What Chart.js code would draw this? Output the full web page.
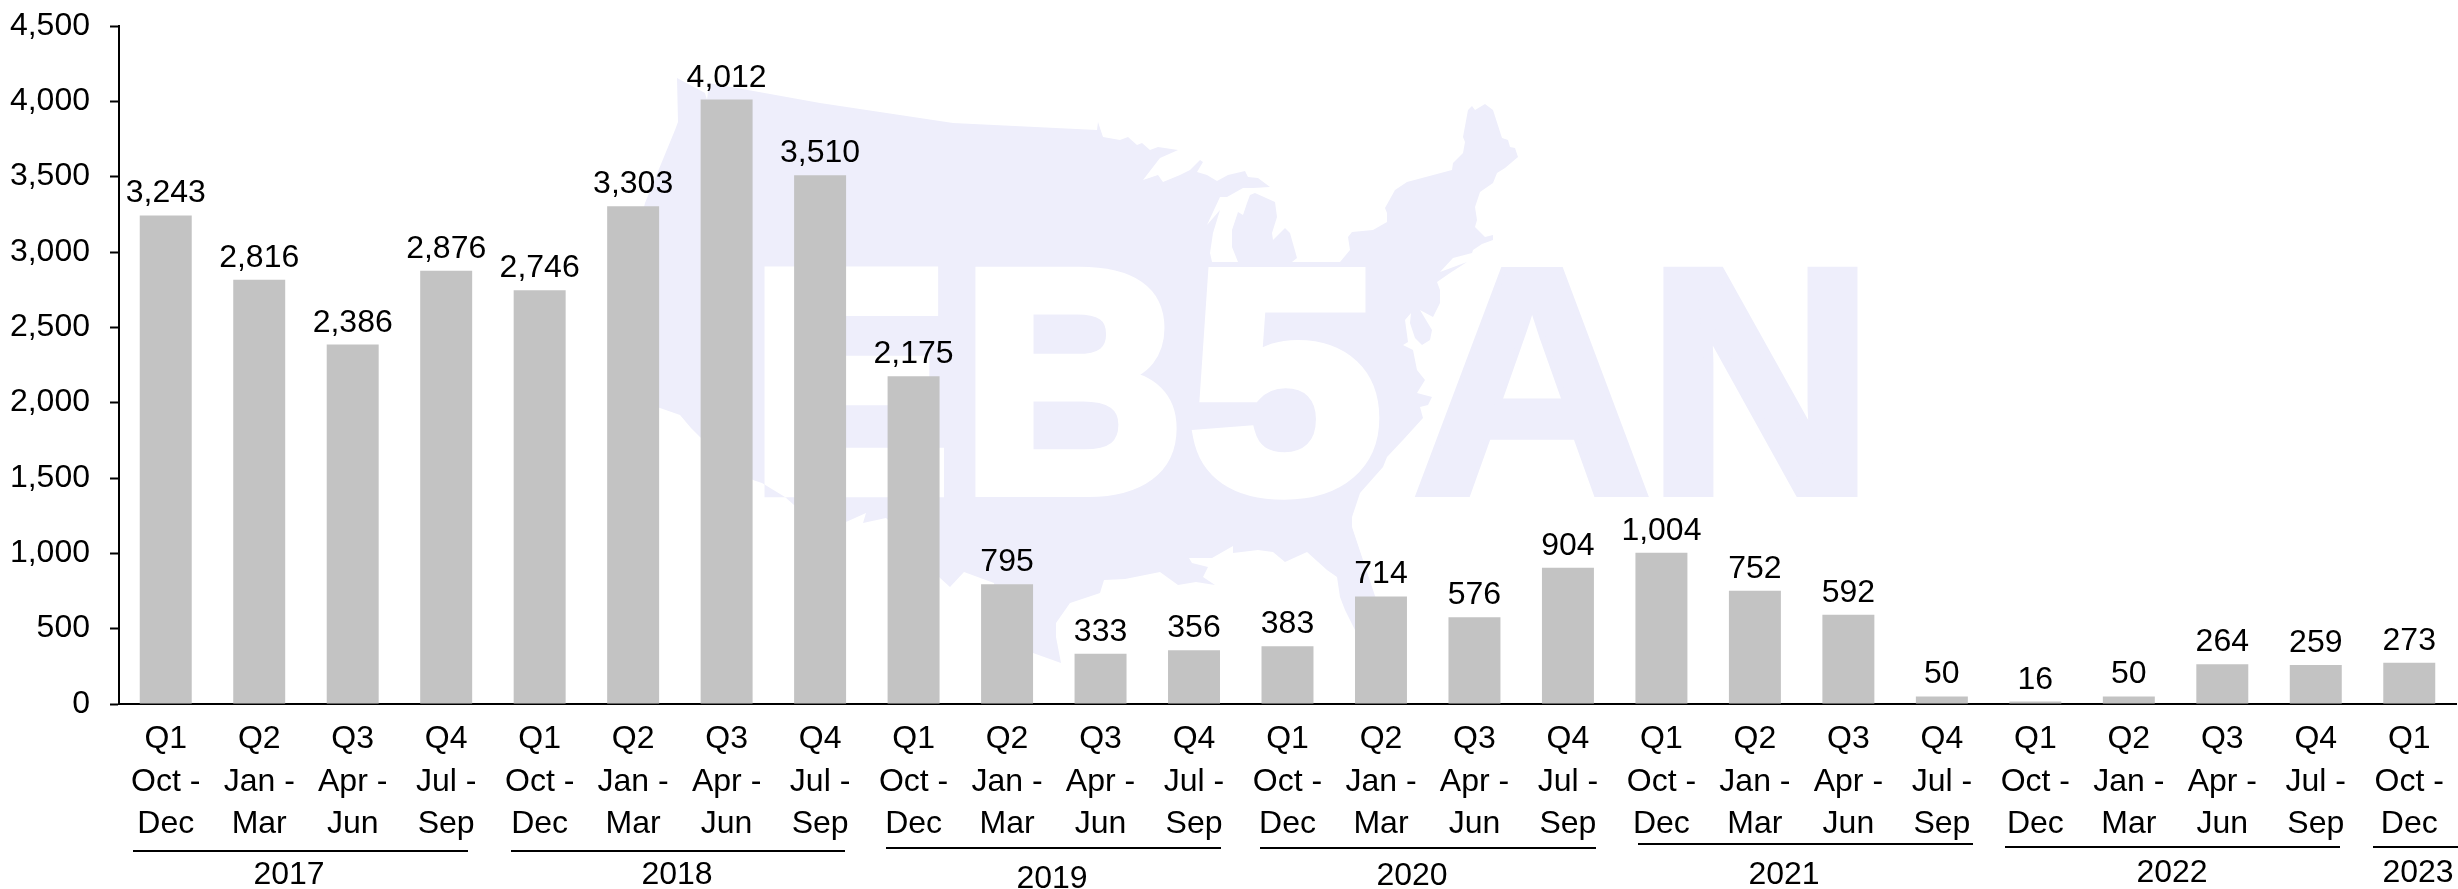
<!DOCTYPE html>
<html>
<head>
<meta charset="utf-8">
<title>EB-5 chart</title>
<script src="https://cdn.jsdelivr.net/npm/chart.js@4"></script>
<style>
  html, body { margin: 0; padding: 0; background: #fff; }
  canvas { display: block; }
</style>
</head>
<body>
<canvas id="barChart" width="2458" height="889"></canvas>
<script>
var quarterLabels = ['Q1','Q2','Q3','Q4','Q1','Q2','Q3','Q4','Q1','Q2','Q3','Q4','Q1','Q2','Q3','Q4','Q1','Q2','Q3','Q4','Q1','Q2','Q3','Q4','Q1'];
var monthFrom = ['Oct -','Jan -','Apr -','Jul -','Oct -','Jan -','Apr -','Jul -','Oct -','Jan -','Apr -','Jul -','Oct -','Jan -','Apr -','Jul -','Oct -','Jan -','Apr -','Jul -','Oct -','Jan -','Apr -','Jul -','Oct -'];
var monthTo = ['Dec','Mar','Jun','Sep','Dec','Mar','Jun','Sep','Dec','Mar','Jun','Sep','Dec','Mar','Jun','Sep','Dec','Mar','Jun','Sep','Dec','Mar','Jun','Sep','Dec'];
var petitions = [3243,2816,2386,2876,2746,3303,4012,3510,2175,795,333,356,383,714,576,904,1004,752,592,50,16,50,264,259,273];
var yearLabels = ['2017','2018','2019','2020','2021','2022','2023'];
var yTicks = [0,500,1000,1500,2000,2500,3000,3500,4000,4500];

// year brackets under the axis, pixels
var yearMarks = [
  { x1: 133, x2: 468, lineY: 851, textX: 289, textY: 875 },
  { x1: 511, x2: 845, lineY: 851, textX: 677, textY: 875 },
  { x1: 886, x2: 1221, lineY: 848, textX: 1052, textY: 879 },
  { x1: 1260, x2: 1596, lineY: 848, textX: 1412, textY: 876 },
  { x1: 1638, x2: 1973, lineY: 844, textX: 1784, textY: 875 },
  { x1: 2005, x2: 2340, lineY: 847, textX: 2172, textY: 873 },
  { x1: 2373, x2: 2458, lineY: 847, textX: 2418, textY: 873 }
];

var FONT = '"Liberation Sans", Arial, sans-serif';
var TINT = '#EEEEFB';

// watermark outline (US map)
var mapOutline = [
  [677,78],[705,93],[707,100],[709,83],[820,103],[953,123],[1097,130],[1098,122],[1103,137],[1120,140],[1128,137],[1137,145],
  [1142,143],[1150,150],[1158,147],[1178,150],[1160,158],[1143,180],[1158,175],[1163,182],[1180,175],[1190,170],
  [1200,160],[1203,162],[1197,172],[1207,175],[1217,181],[1228,175],[1245,171],[1248,177],[1258,178],[1270,187],
  [1253,188],[1243,188],[1227,197],[1220,197],[1207,225],[1220,210],[1213,233],[1210,253],[1212,262],[1238,262],
  [1232,247],[1232,230],[1238,212],[1243,215],[1247,203],[1250,195],[1255,193],[1275,202],[1277,217],[1272,233],
  [1273,240],[1285,228],[1290,233],[1297,258],[1292,262],[1340,262],[1350,250],[1348,237],[1352,232],[1373,230],
  [1387,222],[1387,213],[1385,208],[1395,190],[1407,182],[1452,170],[1453,163],[1463,153],[1465,142],[1463,137],
  [1468,110],[1472,106],[1475,110],[1485,104],[1493,110],[1502,138],[1508,140],[1510,147],[1515,148],[1518,157],
  [1505,168],[1497,173],[1493,183],[1480,192],[1475,207],[1477,220],[1475,227],[1485,237],[1493,235],[1493,240],
  [1482,244],[1473,250],[1472,253],[1453,258],[1440,272],[1467,262],[1450,273],[1437,282],[1440,290],[1440,303],
  [1433,317],[1420,310],[1432,330],[1430,340],[1422,345],[1415,338],[1410,323],[1411,313],[1405,320],[1408,342],
  [1403,345],[1413,350],[1417,370],[1425,380],[1417,393],[1432,397],[1428,405],[1420,407],[1423,418],[1403,440],
  [1387,457],[1383,467],[1360,493],[1352,517],[1352,527],[1373,590],[1385,625],[1360,640],[1345,610],[1340,597],
  [1337,577],[1327,570],[1307,552],[1285,562],[1273,552],[1258,550],[1233,553],[1233,546],[1212,558],[1189,558],
  [1192,563],[1208,567],[1203,577],[1215,585],[1196,582],[1178,585],[1160,572],[1125,579],[1104,580],[1100,593],
  [1070,603],[1056,623],[1056,637],[1061,663],[1033,653],[1000,620],[994,583],[964,572],[950,587],[940,578],
  [900,530],[886,518],[863,523],[866,513],[846,522],[794,505],[785,497],[762,483],[753,480],[700,437],[691,428],
  [680,415],[660,408],[625,400],[612,380],[620,300],[645,203],[675,130],[678,122]
];
var watermarkLetters = [
  { ch: 'E', left: 763, right: 948, stroke: 14 },
  { ch: 'B', left: 974, right: 1180, stroke: 14 },
  { ch: '5', left: 1188, right: 1380, stroke: 14 },
  { ch: 'A', left: 1413, right: 1650, stroke: 6 },
  { ch: 'N', left: 1662, right: 1858, stroke: 10 }
];

var watermarkPlugin = {
  id: 'watermark',
  beforeDraw: function (chart) {
    var ctx = chart.ctx;
    ctx.save();
    ctx.fillStyle = TINT;
    ctx.beginPath();
    mapOutline.forEach(function (p, i) {
      if (i === 0) ctx.moveTo(p[0], p[1]); else ctx.lineTo(p[0], p[1]);
    });
    ctx.closePath();
    ctx.fill();

    // letters go on their own layer (fill + stroke, the logo is heavier than bold),
    // then knock out of the map and show tinted outside of it
    var layer = document.createElement('canvas');
    layer.width = chart.width;
    layer.height = chart.height;
    var lc = layer.getContext('2d');
    lc.fillStyle = TINT;
    lc.strokeStyle = TINT;
    lc.lineJoin = 'miter';
    lc.font = 'bold 330px ' + FONT;
    lc.textAlign = 'left';
    lc.textBaseline = 'alphabetic';
    var capHeight = lc.measureText('E').actualBoundingBoxAscent;
    watermarkLetters.forEach(function (l) {
      var m = lc.measureText(l.ch);
      var inkWidth = m.actualBoundingBoxRight + m.actualBoundingBoxLeft;
      var sx = (l.right - l.left - l.stroke) / inkWidth;
      var sy = (235 - l.stroke) / capHeight;
      lc.save();
      lc.translate(l.left + l.stroke / 2, 497 - l.stroke / 2);
      lc.scale(sx, sy);
      lc.lineWidth = l.stroke / ((sx + sy) / 2);
      lc.fillText(l.ch, m.actualBoundingBoxLeft, 0);
      lc.strokeText(l.ch, m.actualBoundingBoxLeft, 0);
      lc.restore();
    });
    ctx.globalCompositeOperation = 'xor';
    ctx.drawImage(layer, 0, 0);
    ctx.restore();
  }
};

var annotationPlugin = {
  id: 'annotations',
  afterDatasetsDraw: function (chart) {
    var ctx = chart.ctx;
    ctx.save();
    ctx.fillStyle = '#000';
    ctx.font = '32px ' + FONT;
    ctx.textAlign = 'center';
    ctx.textBaseline = 'alphabetic';
    // value labels above the bars
    chart.getDatasetMeta(0).data.forEach(function (bar, i) {
      ctx.fillText(petitions[i].toLocaleString('en-US'), bar.x, bar.y - 13);
    });
    // year brackets
    ctx.strokeStyle = '#000';
    ctx.lineWidth = 2;
    ctx.textBaseline = 'middle';
    yearLabels.forEach(function (year, i) {
      var m = yearMarks[i];
      ctx.beginPath();
      ctx.moveTo(m.x1, m.lineY);
      ctx.lineTo(m.x2, m.lineY);
      ctx.stroke();
      ctx.fillText(year, m.textX, m.textY);
    });
    ctx.restore();
  }
};

var ctxB = document.getElementById('barChart').getContext('2d');
var myBarChart = new Chart(ctxB, {
  type: 'bar',
  data: {
    labels: quarterLabels.map(function (q, i) { return [q, monthFrom[i], monthTo[i]]; }),
    datasets: [{
      data: petitions,
      backgroundColor: '#C3C3C3',
      borderWidth: 0,
      barPercentage: 0.556,
      categoryPercentage: 1
    }]
  },
  options: {
    responsive: false,
    animation: false,
    layout: { padding: { top: 26, right: 2, left: 0, bottom: 0 } },
    plugins: { legend: { display: false }, tooltip: { enabled: false } },
    scales: {
      x: {
        grid: { display: false },
        border: { color: '#000', width: 2 },
        ticks: {
          color: '#000',
          font: { family: FONT, size: 32, lineHeight: 1.33 },
          padding: 6,
          autoSkip: false,
          maxRotation: 0,
          minRotation: 0
        },
        afterFit: function (scale) {
          scale.height = 185;
          scale.paddingLeft = 0;
          scale.paddingRight = 0;
        }
      },
      y: {
        min: 0,
        max: 4500,
        grid: { drawOnChartArea: false, color: '#000', tickLength: 9, tickWidth: 2 },
        border: { color: '#000', width: 2 },
        afterBuildTicks: function (scale) {
          scale.ticks = yTicks.map(function (v) { return { value: v }; });
        },
        ticks: {
          color: '#000',
          font: { family: FONT, size: 32 },
          padding: 20,
          callback: function (v) { return v.toLocaleString('en-US'); }
        },
        afterFit: function (scale) {
          scale.width = 119;
          scale.paddingTop = 0;
          scale.paddingBottom = 0;
        }
      }
    }
  },
  plugins: [watermarkPlugin, annotationPlugin]
});
</script>
</body>
</html>
